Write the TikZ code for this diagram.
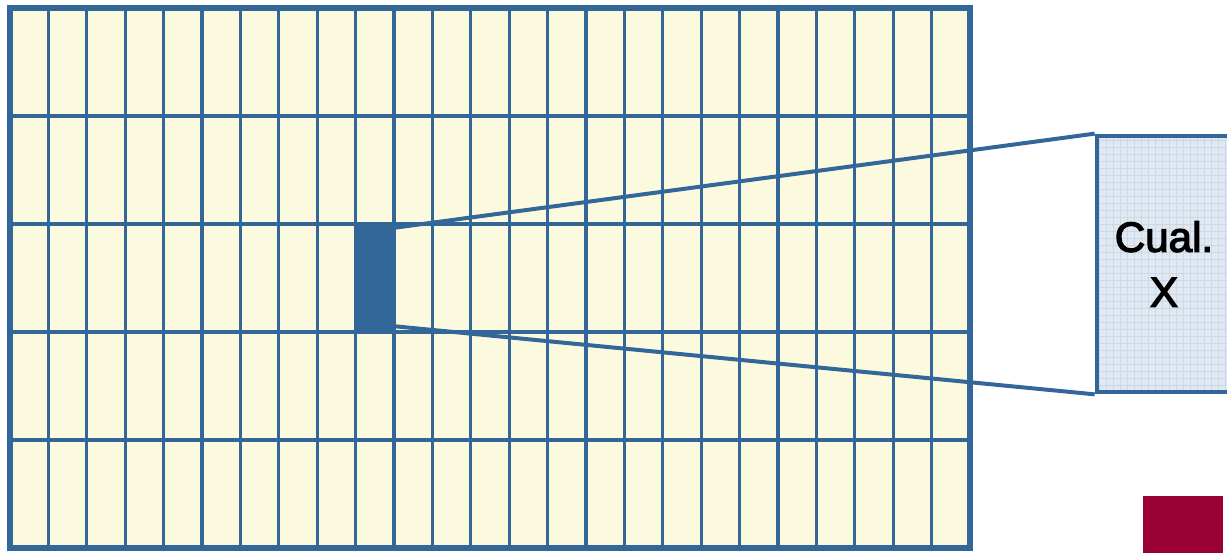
\documentclass[tikz,border=0pt]{standalone}
\usepackage{fontspec}
\setmainfont{Liberation Sans}
\newfontfamily\zoomfont[FakeBold=3]{Liberation Sans}
\usetikzlibrary{calc}
\definecolor{gridblue}{HTML}{336699}
\definecolor{cellfill}{HTML}{FCFADE}
\definecolor{zoomfill}{HTML}{E0E8F1}
\definecolor{zoomgrid}{HTML}{CCD8E6}
\definecolor{markred}{HTML}{990033}
\begin{document}
\begin{tikzpicture}[x=0.03cm, y=-0.03cm]
    \clip (0,0) rectangle (1227,552);
    \fill[white] (0,0) rectangle (1227,552);

    % Tabla
    \fill[cellfill] (10,8) rectangle (970,548);
    \foreach \i in {1,...,24} {
        \draw[gridblue, line width=2.6pt] ({10+\i*38.4},8) -- ({10+\i*38.4},548);
    }
    \foreach \j in {1,...,4} {
        \draw[gridblue, line width=2.6pt] (10,{8+\j*108}) -- (970,{8+\j*108});
    }
    \node[draw=gridblue, line width=5pt, rectangle, minimum width=28.8cm, minimum height=16.2cm, inner sep=0pt] (tabla) at (490,278) {};

    % Celda seleccionada
    \node[fill=gridblue, rectangle, minimum width=1.15cm, minimum height=3.24cm, inner sep=0pt] (celda) at (375,278) {};

    % Ampliacion
    \node[fill=zoomfill, rectangle, minimum width=4.02cm, minimum height=7.68cm, inner sep=0pt] (zoom) at (1164,264) {};
    \begin{scope}
        \clip (zoom.south west) rectangle (zoom.north east);
        \draw[zoomgrid, line width=0.4pt, step=0.21cm] (zoom.south west) grid (zoom.north east);
    \end{scope}
    \node[draw=gridblue, line width=4pt, rectangle, minimum width=4.02cm, minimum height=7.68cm, inner sep=0pt,
          align=center, font=\zoomfont\fontsize{36}{47}\selectfont] (zoomtxt) at (zoom.center) {Cual.\\X};

    % Lineas de ampliacion
    \coordinate (c1) at ($(celda.north east)+(0,4)$);
    \coordinate (c2) at ($(celda.south east)+(0,-6)$);
    \draw[gridblue, line width=3.4pt] (c1) -- (zoomtxt.north west);
    \draw[gridblue, line width=3.4pt] (c2) -- (zoomtxt.south west);

    % Marca
    \node[fill=markred, rectangle, minimum width=2.4cm, minimum height=2.4cm, inner sep=0pt] (marca) at (1183,536) {};
\end{tikzpicture}
\end{document}
